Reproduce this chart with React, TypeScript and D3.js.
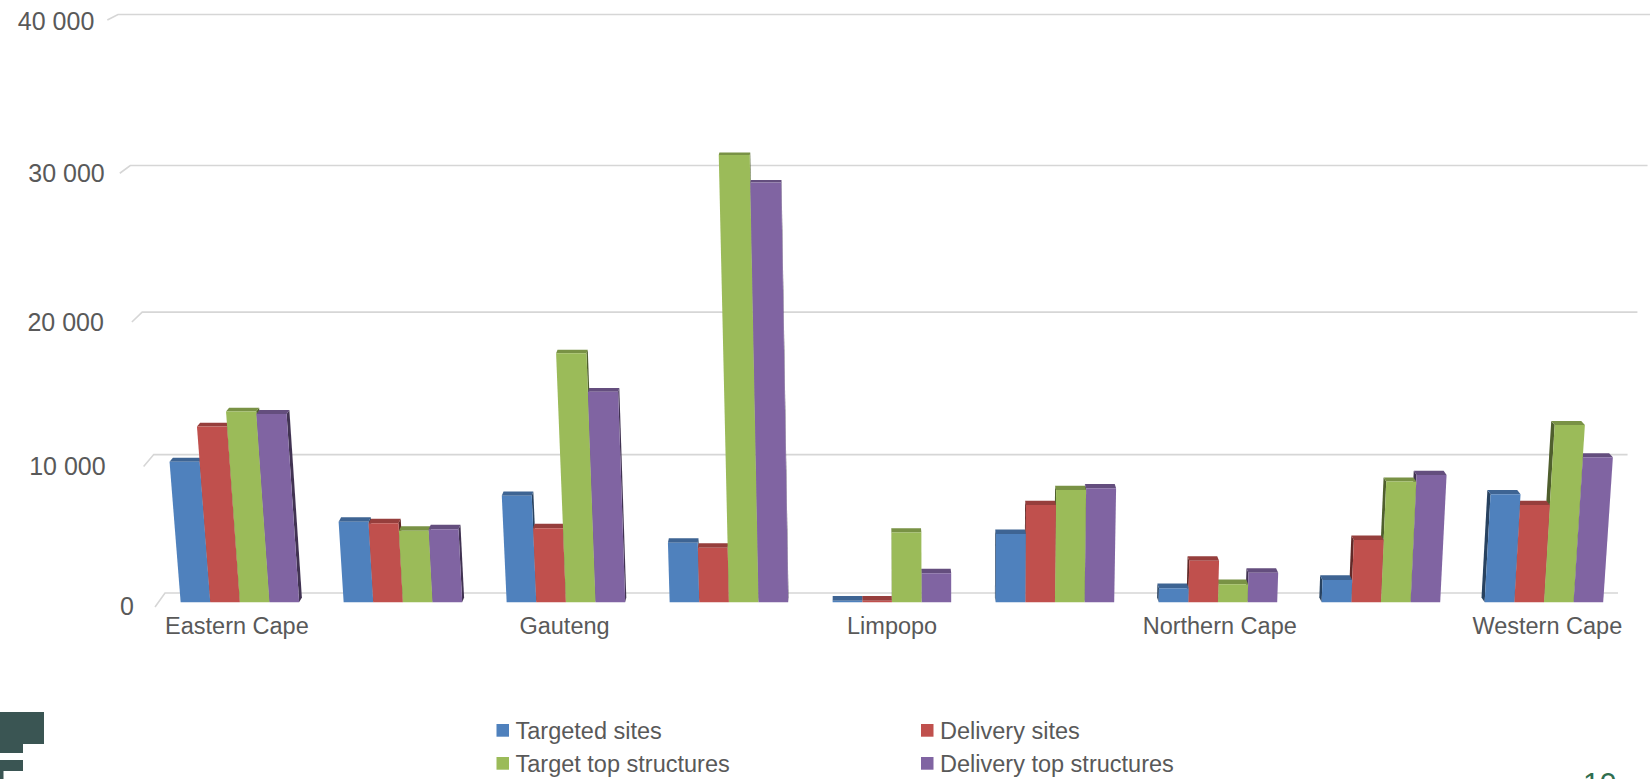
import React from "react";
import * as d3 from "d3";

// Housing delivery by province: four series per province
const categories = [
  "Eastern Cape",
  "Free State",
  "Gauteng",
  "KwaZulu-Natal",
  "Limpopo",
  "Mpumalanga",
  "Northern Cape",
  "North West",
  "Western Cape",
];
// Excel skips every other category label for lack of room
const labelEvery = 2;

const seriesNames = ["Targeted sites", "Delivery sites", "Target top structures", "Delivery top structures"];
const seriesColors = ["#4F81BD", "#C0504D", "#9BBB59", "#8064A2"];

const targetedSites = [10050, 5800, 7650, 4290, 100, 4920, 1010, 1610, 7750];
const deliverySites = [12520, 5690, 5330, 3940, 100, 6990, 3000, 4490, 6990];
const targetTopStructures = [13570, 5150, 17620, 31040, 5020, 8050, 1300, 8650, 12640];
const deliveryTopStructures = [13410, 5260, 14960, 29200, 2090, 8180, 2130, 9120, 10370];

const seriesValues = [targetedSites, deliverySites, targetTopStructures, deliveryTopStructures];

const yTicks = [0, 10000, 20000, 30000, 40000];
const yMax = 40000;

// horizontal gap between each value label's right edge and the side-wall corner
const tickLabelGap = [21, 38, 28, 15, 13];

const W = 1650;
const H = 779;

type Pt = [number, number];

// Planar homography from the unit square (u right, v up) onto the back wall quad
function makeHomography(src: Pt[], dst: Pt[]) {
  const A: number[][] = [];
  const b: number[] = [];
  for (let i = 0; i < 4; i++) {
    const [x, y] = src[i];
    const [X, Y] = dst[i];
    A.push([x, y, 1, 0, 0, 0, -X * x, -X * y]);
    b.push(X);
    A.push([0, 0, 0, x, y, 1, -Y * x, -Y * y]);
    b.push(Y);
  }
  const n = 8;
  for (let c = 0; c < n; c++) {
    let p = c;
    for (let r = c + 1; r < n; r++) if (Math.abs(A[r][c]) > Math.abs(A[p][c])) p = r;
    [A[c], A[p]] = [A[p], A[c]];
    [b[c], b[p]] = [b[p], b[c]];
    for (let r = 0; r < n; r++) {
      if (r === c) continue;
      const f = A[r][c] / A[c][c];
      for (let k = c; k < n; k++) A[r][k] -= f * A[c][k];
      b[r] -= f * b[c];
    }
  }
  const h = b.map((v, i) => v / A[i][i]);
  return (u: number, v: number): Pt => {
    const d = h[6] * u + h[7] * v + 1;
    return [(h[0] * u + h[1] * v + h[2]) / d, (h[3] * u + h[4] * v + h[5]) / d];
  };
}

// Back wall corners: bottom-left, bottom-right, top-right, top-left
const wall = makeHomography(
  [
    [0, 0],
    [1, 0],
    [1, 1],
    [0, 1],
  ],
  [
    [165, 593],
    [1618, 593],
    [1658, 14.5],
    [118, 14.5],
  ]
);

// One-point perspective for depth: w = 0 on the back wall, w = 1 at the floor front
const vanish: Pt = [848, -363];
const depthGain = 0.0146;
function proj(u: number, v: number, w: number): Pt {
  const [x, y] = wall(u, v);
  const s = 1 + depthGain * w;
  return [vanish[0] + s * (x - vanish[0]), vanish[1] + s * (y - vanish[1])];
}

const barBack = 0.32;
const barFront = 0.66;

const xBand = d3
  .scaleBand<string>()
  .domain(categories)
  .range([0, 1])
  .paddingInner(1.5 / 5.5)
  .paddingOuter(0.75 / 5.5);
const xSeries = d3
  .scaleBand<number>()
  .domain(d3.range(seriesNames.length))
  .range([0, xBand.bandwidth()])
  .padding(0);
const yScale = d3.scaleLinear().domain([0, yMax]).range([0, 1]);

const fmt = (v: number) => d3.format(",")(v).replace(/,/g, " ");

const poly = (pts: Pt[]) => "M" + pts.map((p) => p[0].toFixed(2) + "," + p[1].toFixed(2)).join("L") + "Z";

const textColor = "#595959";
const gridColor = "#d6d6d6";

function Bar({ u0, u1, value, color }: { u0: number; u1: number; value: number; color: string }) {
  const v = yScale(value);
  const front = [proj(u0, 0, barFront), proj(u1, 0, barFront), proj(u1, v, barFront), proj(u0, v, barFront)] as Pt[];
  const top = [proj(u0, v, barFront), proj(u1, v, barFront), proj(u1, v, barBack), proj(u0, v, barBack)] as Pt[];
  const midX = proj((u0 + u1) / 2, 0, barFront)[0];
  const us = midX < vanish[0] ? u1 : u0;
  const side = [proj(us, 0, barFront), proj(us, v, barFront), proj(us, v, barBack), proj(us, 0, barBack)] as Pt[];
  const base = d3.color(color)!;
  return (
    <g>
      <path d={poly(side)} fill={base.darker(1.9).formatHex()} />
      <path d={poly(top)} fill={base.darker(0.7).formatHex()} />
      <path d={poly(front)} fill={color} />
    </g>
  );
}

export default function App() {
  const groups = categories.map((cat, ci) => {
    const gx = xBand(cat)!;
    const bars = seriesValues.map((vals, si) => ({
      si,
      u0: gx + xSeries(si)!,
      u1: gx + xSeries(si)! + xSeries.bandwidth(),
      value: vals[ci],
    }));
    const cx = proj(gx + xBand.bandwidth() / 2, 0, barFront)[0];
    // paint so that neighbouring front faces hide the inner side faces
    const ordered = cx < vanish[0] ? bars : [...bars].reverse();
    return { cat, ci, ordered };
  });

  const legendItems = seriesNames.map((name, i) => ({
    name,
    color: seriesColors[i],
    col: i % 2,
    row: Math.floor(i / 2),
  }));

  return (
    <>
      <style>{"body{margin:0;background:#fff}"}</style>
      <svg width={W} height={H} style={{ display: "block", background: "#ffffff" }} fontFamily="'Liberation Sans', Arial, sans-serif">
        {/* gridlines: short run on the side wall, then across the back wall */}
        {yTicks.map((t) => {
          const v = yScale(t);
          const pts = [proj(0, v, 1), proj(0, v, 0), proj(1, v, 0)];
          return (
            <path
              key={"g" + t}
              d={"M" + pts.map((p) => p.join(",")).join("L")}
              fill="none"
              stroke={gridColor}
              strokeWidth={1.6}
            />
          );
        })}

        {/* value axis labels */}
        {yTicks.map((t, i) => {
          const [x, y] = proj(0, yScale(t), 1);
          return (
            <text
              key={"y" + t}
              x={x - tickLabelGap[i]}
              y={y + (t === yMax ? 10 : 8.5)}
              textAnchor="end"
              fontSize={25}
              fill={textColor}
            >
              {fmt(t)}
            </text>
          );
        })}

        {/* columns */}
        {groups.map((g) => (
          <g key={g.cat}>
            {g.ordered.map((b) => (
              <Bar key={b.si} u0={b.u0} u1={b.u1} value={b.value} color={seriesColors[b.si]} />
            ))}
          </g>
        ))}

        {/* category labels */}
        {categories.map((cat, i) => {
          if (i % labelEvery !== 0) return null;
          const [x, y] = proj(xBand(cat)! + xBand.bandwidth() / 2, 0, 1);
          return (
            <text key={"c" + cat} x={x} y={y + 27} textAnchor="middle" fontSize={23.5} fill={textColor}>
              {cat}
            </text>
          );
        })}

        {/* legend */}
        <g transform="translate(496.5,0)">
          {legendItems.map((it) => (
            <g key={it.name} transform={`translate(${it.col * 424.5},${724 + it.row * 33})`}>
              <rect x={0} y={0} width={12.5} height={12.7} fill={it.color} />
              <text x={19} y={14.5} fontSize={23.5} fill={textColor}>
                {it.name}
              </text>
            </g>
          ))}
        </g>

        {/* corner logo */}
        <path d="M0,712 H44 V744 H23 V753 H0 Z" fill="#3a5553" />
        <path d="M0,760 H23 V771 H3.5 V779 H0 Z" fill="#3a5553" />

        {/* page number */}
        <text x={1583} y={793} fontSize={30} fill="#2f6e4f">
          10
        </text>
      </svg>
    </>
  );
}
